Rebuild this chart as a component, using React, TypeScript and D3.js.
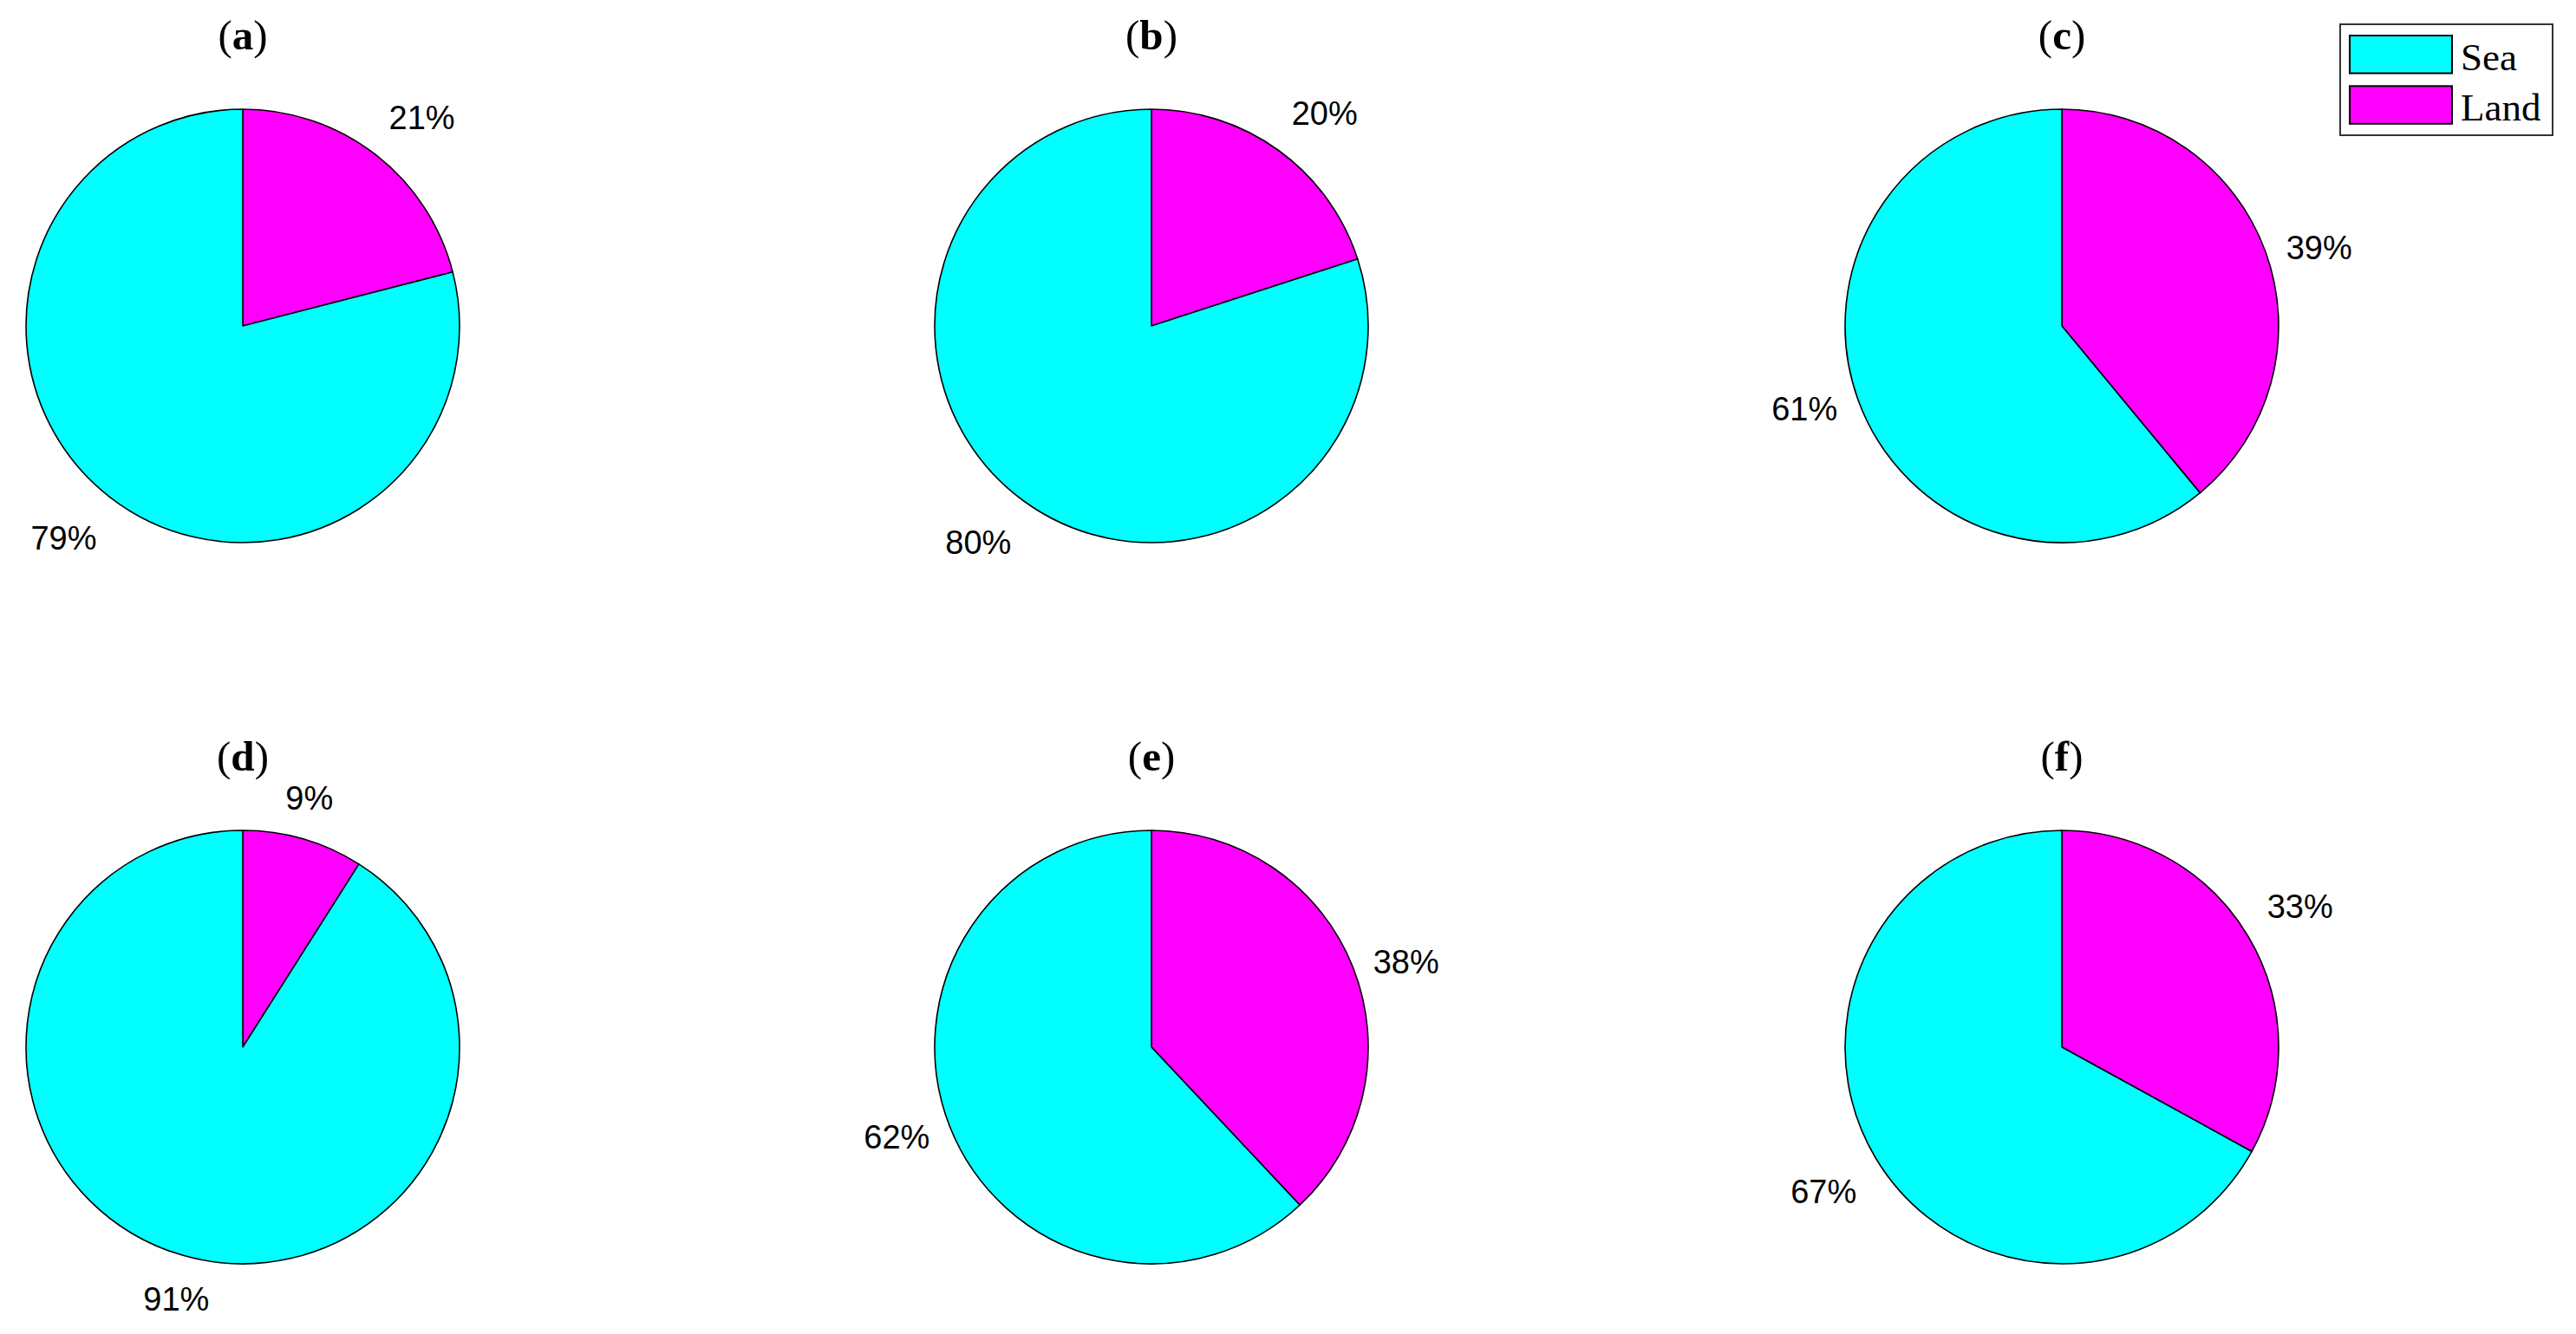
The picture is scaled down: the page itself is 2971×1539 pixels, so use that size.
import React from "react";
import * as d3 from "d3";

const panels = ["a", "b", "c", "d", "e", "f"];
const seaPct = [79, 80, 61, 91, 62, 67];
const landPct = [21, 20, 39, 9, 38, 33];
const legendLabels = ["Sea", "Land"];
const colors = ["#00ffff", "#ff00ff"]; // sea, land

const W = 2971;
const H = 1539;
const R = 250;
const colX = [280, 1328, 2378];
const rowY = [376, 1208];

function labelPlacement(a: number) {
  // a: d3 angle (0 at top, clockwise). theta: math angle in degrees
  let th = 90 - (a * 180) / Math.PI;
  th = ((th % 360) + 360) % 360;
  const oct = Math.round(th / 45) % 8; // 0 = right, 2 = top, 4 = left, 6 = bottom
  let anchor: "start" | "middle" | "end" = "middle";
  if (oct === 0 || oct === 1 || oct === 7) anchor = "start";
  else if (oct === 3 || oct === 4 || oct === 5) anchor = "end";
  let dy = 0.42; // middle
  if (oct === 1 || oct === 2 || oct === 3) dy = -0.25; // bottom
  else if (oct === 5 || oct === 6 || oct === 7) dy = 1.06; // top
  return { anchor, dy };
}

function Pie({ idx }: { idx: number }) {
  const cx = colX[idx % 3];
  const cy = rowY[Math.floor(idx / 3)];
  const values = [landPct[idx], seaPct[idx]];
  const cols = [colors[1], colors[0]];
  const arcs = d3.pie<number>().sort(null).value((d) => d)(values);
  const arcGen = d3.arc<d3.PieArcDatum<number>>().innerRadius(0).outerRadius(R);
  const fs = 38;
  return (
    <g>
      <g transform={`translate(${cx},${cy})`}>
        {arcs.map((a, i) => (
          <path
            key={i}
            d={arcGen(a) || ""}
            fill={cols[i]}
            stroke="#000"
            strokeWidth={1.6}
            strokeLinejoin="round"
          />
        ))}
        {arcs.map((a, i) => {
          const m = (a.startAngle + a.endAngle) / 2;
          const x = 1.1 * R * Math.sin(m);
          const y = -1.1 * R * Math.cos(m);
          const p = labelPlacement(m);
          return (
            <text
              key={"t" + i}
              x={x}
              y={y + p.dy * fs}
              textAnchor={p.anchor}
              fontFamily="'Liberation Sans', Arial, sans-serif"
              fontSize={fs}
              fill="#000"
            >
              {`${values[i]}%`}
            </text>
          );
        })}
      </g>
      <text
        x={cx}
        y={cy - R - 69}
        textAnchor="middle"
        fontFamily="'Liberation Serif', 'Times New Roman', serif"
        fontSize={49}
        fill="#000"
      >
        <tspan>(</tspan>
        <tspan fontWeight="bold">{panels[idx]}</tspan>
        <tspan>)</tspan>
      </text>
    </g>
  );
}

export default function App() {
  const lx = 2699;
  const ly = 28;
  return (
    <svg
      width={W}
      height={H}
      viewBox={`0 0 ${W} ${H}`}
      style={{ position: "absolute", left: 0, top: 0, background: "#fff" }}
    >
      <rect x={0} y={0} width={W} height={H} fill="#fff" />
      {panels.map((_, i) => (
        <Pie key={i} idx={i} />
      ))}
      <g>
        <rect x={lx} y={ly} width={245} height={128} fill="#fff" stroke="#333" strokeWidth={2} />
        {legendLabels.map((lab, i) => (
          <g key={lab}>
            <rect
              x={lx + 11}
              y={ly + 13 + i * 58.3}
              width={118}
              height={43.5}
              fill={colors[i]}
              stroke="#000"
              strokeWidth={2}
            />
            <text
              x={lx + 139}
              y={ly + 53 + i * 58.3}
              fontFamily="'Liberation Serif', 'Times New Roman', serif"
              fontSize={45}
              fill="#000"
            >
              {lab}
            </text>
          </g>
        ))}
      </g>
    </svg>
  );
}
